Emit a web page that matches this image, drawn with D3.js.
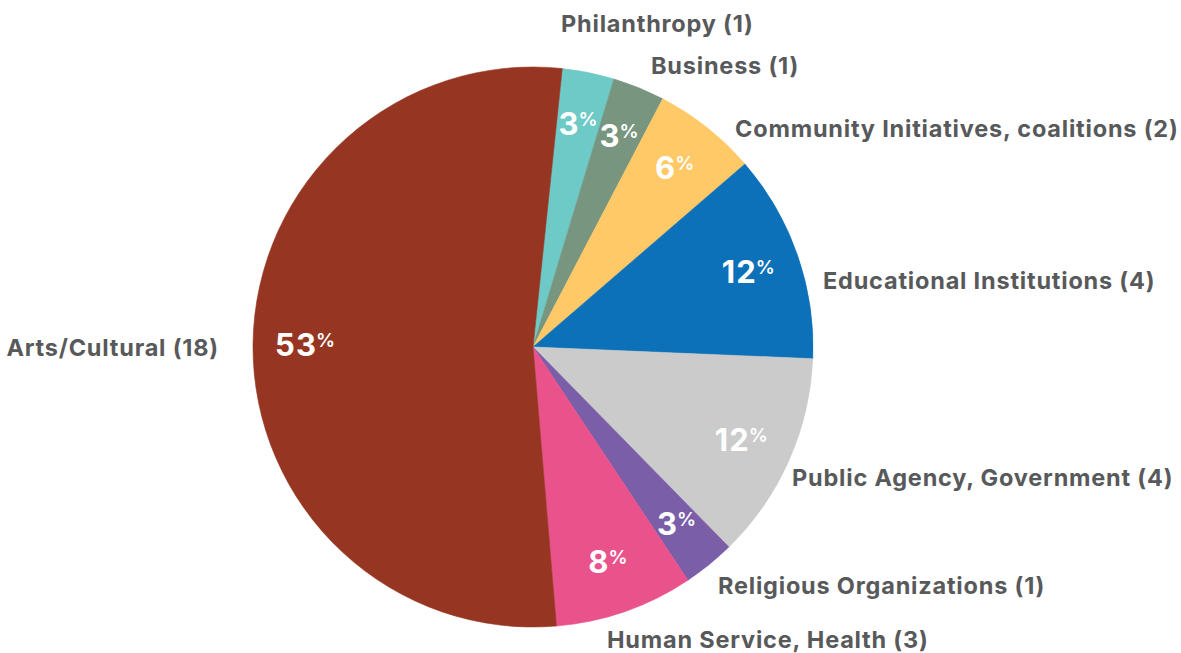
<!DOCTYPE html>
<html>
<head>
<meta charset="utf-8">
<script src="https://cdn.jsdelivr.net/npm/d3@7"></script>
<style>
  html, body { margin: 0; padding: 0; background: #ffffff; }
  svg { display: block; }
  .cat-label { font-family: Inter, "Open Sans", sans-serif; font-weight: 700; fill: #58595b; letter-spacing: 0.8px; }
  .pct-label { font-family: Inter, "Open Sans", sans-serif; font-weight: 700; fill: #ffffff; }
</style>
</head>
<body>
<script>
// Partner organisations by sector
const categories = [
  "Philanthropy",
  "Business",
  "Community Initiatives, coalitions",
  "Educational Institutions",
  "Public Agency, Government",
  "Religious Organizations",
  "Human Service, Health",
  "Arts/Cultural"
];
const counts   = [1, 1, 2, 4, 4, 1, 3, 18];
const percents = [3, 3, 6, 12, 12, 3, 8, 53];
const colors   = ["#6ecac6", "#78957f", "#fec966", "#0d71b9", "#cbcbcb", "#7a5ea8", "#ea528b", "#963622"];

const W = 1181, H = 653;
const cx = 533, cy = 347, R = 280;
const startRot = 6 * Math.PI / 180;

// Where each sector name sits around the pie
const nameLayout = [
  { x: 561, y: 32,  anchor: "start" },
  { x: 651, y: 74,  anchor: "start" },
  { x: 735, y: 137, anchor: "start" },
  { x: 823, y: 289, anchor: "start" },
  { x: 792, y: 486, anchor: "start" },
  { x: 718, y: 594, anchor: "start" },
  { x: 607, y: 648, anchor: "start" },
  { x: 219, y: 356, anchor: "end" }
];

const rows = categories.map((c, i) => ({ name: c, count: counts[i], pct: percents[i], color: colors[i], i }));

const svg = d3.select("body").append("svg")
  .attr("width", W).attr("height", H);

const pie = d3.pie()
  .sort(null)
  .value(d => d.pct)
  .startAngle(startRot)
  .endAngle(startRot + 2 * Math.PI);

const arc = d3.arc().innerRadius(0).outerRadius(R);
const labelArc = d3.arc().innerRadius(228).outerRadius(228);

const g = svg.append("g").attr("transform", `translate(${cx},${cy})`);
const slices = pie(rows);

g.selectAll("path.slice")
  .data(slices)
  .join("path")
  .attr("class", "slice")
  .attr("d", arc)
  .attr("fill", d => d.data.color)
  .attr("stroke", d => d.data.color)
  .attr("stroke-width", 0.6);

// Percentage inside each slice, with a small raised % sign
const pct = g.selectAll("text.pct-label")
  .data(slices)
  .join("text")
  .attr("class", "pct-label")
  .attr("text-anchor", "middle")
  .attr("x", d => labelArc.centroid(d)[0])
  .attr("y", d => labelArc.centroid(d)[1] + 11);

pct.append("tspan")
  .attr("font-size", 31)
  .attr("letter-spacing", "1px")
  .text(d => d.data.pct);
pct.append("tspan")
  .attr("font-size", 19)
  .attr("font-weight", 600)
  .attr("dx", -1)
  .attr("dy", -9)
  .text("%");

// Sector names with counts
svg.selectAll("text.cat-label")
  .data(rows)
  .join("text")
  .attr("class", "cat-label")
  .attr("font-size", 23.5)
  .attr("x", d => nameLayout[d.i].x)
  .attr("y", d => nameLayout[d.i].y)
  .attr("text-anchor", d => nameLayout[d.i].anchor)
  .text(d => `${d.name} (${d.count})`);
</script>
</body>
</html>
